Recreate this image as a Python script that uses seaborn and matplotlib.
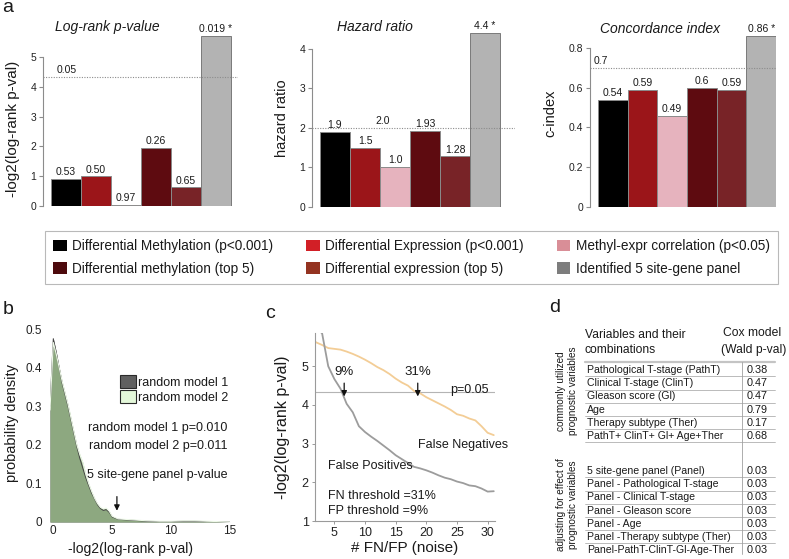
import numpy as np
import pandas as pd
import matplotlib
matplotlib.use("Agg")
import matplotlib.pyplot as plt
import seaborn as sns
from matplotlib.patches import Patch

sns.set_theme(style="white")
plt.rcParams["font.family"] = ["Liberation Sans", "DejaVu Sans"]
plt.rcParams["text.color"] = "#1a1a1a"
plt.rcParams["axes.labelcolor"] = "#1a1a1a"

# ---------------- data ----------------
bar_groups = ["Differential Methylation (p<0.001)", "Differential Expression (p<0.001)",
              "Methyl-expr correlation (p<0.05)", "Differential methylation (top 5)",
              "Differential expression (top 5)", "Identified 5 site-gene panel"]
bar_colors = ["#000000", "#9b1519", "#e6b3be", "#5e0b10", "#782327", "#b3b3b3"]
legend_colors = ["#000000", "#d21f26", "#d98e97", "#4d0a0d", "#943321", "#7d7d7d"]

logrank_p = [0.53, 0.50, 0.97, 0.26, 0.65, 0.019]
logrank_labels = ["0.53", "0.50", "0.97", "0.26", "0.65", "0.019 *"]
hazard_ratio = [1.9, 1.5, 1.02, 1.93, 1.28, 4.4]
hazard_labels = ["1.9", "1.5", "1.0", "1.93", "1.28", "4.4 *"]
c_index = [0.54, 0.59, 0.46, 0.60, 0.59, 0.86]
c_index_labels = ["0.54", "0.59", "0.49", "0.6", "0.59", "0.86 *"]
ref_pvalue = 0.05
ref_hazard = 2.0
ref_cindex = 0.7

density_x = [-0.28, 0, 0.25, 0.5, 0.75, 1.0, 1.25, 1.5, 1.75, 2.0, 2.25, 2.5, 2.75, 3.0,
             3.25, 3.5, 3.75, 4.0, 4.25, 4.5, 4.75, 5.0, 5.5, 6.0, 6.5, 7.0, 8.0, 9.0,
             10.0, 11.0, 12.0, 13.0, 14.0, 15.0]
density_model1 = [0.30, 0.475, 0.44, 0.40, 0.36, 0.33, 0.30, 0.265, 0.23, 0.195, 0.165, 0.14,
                  0.115, 0.095, 0.075, 0.06, 0.045, 0.035, 0.03, 0.032, 0.025, 0.013, 0.007,
                  0.006, 0.005, 0.004, 0.002, 0.001, 0.001, 0.002, 0.002, 0.001, 0.001, 0.0]
density_model2 = [0.29, 0.465, 0.435, 0.40, 0.365, 0.335, 0.305, 0.27, 0.235, 0.20, 0.175, 0.155,
                  0.125, 0.10, 0.08, 0.062, 0.048, 0.038, 0.034, 0.036, 0.028, 0.015, 0.008,
                  0.007, 0.006, 0.005, 0.003, 0.002, 0.002, 0.003, 0.003, 0.002, 0.001, 0.0]
random_models = ["random model 1", "random model 2"]
random_model_p = ["0.010", "0.011"]
panel_score = 5.4

noise = list(range(1, 32))
false_positives = [6.3, 6.0, 5.85, 5.0, 4.67, 4.42, 4.03, 3.81, 3.45, 3.3, 3.18, 3.07, 2.95, 2.83,
                   2.7, 2.6, 2.5, 2.4, 2.36, 2.31, 2.25, 2.18, 2.12, 2.08, 2.02, 1.98, 1.92, 1.9,
                   1.84, 1.76, 1.77]
false_negatives = [5.75, 5.62, 5.55, 5.47, 5.45, 5.43, 5.38, 5.32, 5.25, 5.17, 5.08, 4.98, 4.9,
                   4.8, 4.68, 4.58, 4.5, 4.36, 4.3, 4.2, 4.12, 4.04, 3.96, 3.87, 3.76, 3.72, 3.65,
                   3.6, 3.45, 3.28, 3.22]
fp_cross, fn_cross = 6.6, 18.6
fp_pct, fn_pct = "9%", "31%"

cox_group1 = ["Pathological T-stage (PathT)", "Clinical T-stage (ClinT)", "Gleason score (Gl)",
              "Age", "Therapy subtype (Ther)", "PathT+ ClinT+ Gl+ Age+Ther"]
cox_group1_p = ["0.38", "0.47", "0.47", "0.79", "0.17", "0.68"]
cox_group2 = ["5 site-gene panel (Panel)", "Panel - Pathological T-stage", "Panel - Clinical T-stage",
              "Panel - Gleason score", "Panel - Age", "Panel -Therapy subtype (Ther)",
              "Panel-PathT-ClinT-Gl-Age-Ther"]
cox_group2_p = ["0.03", "0.03", "0.03", "0.03", "0.03", "0.03", "0.03"]

# ---------------- figure ----------------
W, H = 789, 559
fig = plt.figure(figsize=(W / 100, H / 100), dpi=100)


def px_rect(x0, y0, x1, y1):
    return [x0 / W, 1 - y1 / H, (x1 - x0) / W, (y1 - y0) / H]


def place_ylabel(ax, box, text, cx, cy, size):
    x0, y0, x1, y1 = box
    ax.set_ylabel(text, fontsize=size, va="center", ha="center")
    ax.yaxis.set_label_coords((cx - x0) / (x1 - x0), (y1 - cy) / (y1 - y0))


def place_xlabel(ax, box, text, cx, cy, size):
    x0, y0, x1, y1 = box
    ax.set_xlabel(text, fontsize=size, va="center", ha="center")
    ax.xaxis.set_label_coords((cx - x0) / (x1 - x0), (y1 - cy) / (y1 - y0))


def bar_panel(box, xlim, ylim, values, labels, yticks, yticklabels, ref, ref_text, ref_x,
              ref_ha, ylabel, ylab_xy, ylab_size):
    ax = fig.add_axes(px_rect(*box))
    df = pd.DataFrame({"group": bar_groups, "value": values})
    sns.barplot(data=df, x="group", y="value", hue="group", order=bar_groups,
                hue_order=bar_groups, palette=bar_colors, width=1.0, saturation=1,
                edgecolor="#8a8a8a", linewidth=0.7, legend=False, errorbar=None, ax=ax)
    ax.patches[len(bar_groups) - 1].set_edgecolor("#7a7a7a")
    for i, (v, lab) in enumerate(zip(values, labels)):
        ax.annotate(lab, (i, v), xytext=(0, 1.2), textcoords="offset points",
                    ha="center", va="bottom", fontsize=7.5, annotation_clip=False)
    ax.axhline(ref, color="#8c8c8c", lw=0.8, ls=(0, (1, 1.3)), zorder=5)
    ax.annotate(ref_text, (ref_x, ref), xytext=(0, 1.5), textcoords="offset points",
                ha=ref_ha, va="bottom", fontsize=7.5)
    ax.set_xlim(*xlim)
    ax.set_ylim(*ylim)
    ax.set_xticks([])
    ax.set_xlabel("")
    ax.set_yticks(yticks)
    ax.set_yticklabels(yticklabels)
    sns.despine(ax=ax, bottom=True)
    ax.spines["left"].set_color("#8c8c8c")
    ax.spines["left"].set_linewidth(0.8)
    ax.spines["left"].set_bounds(yticks[0], yticks[-1])
    ax.tick_params(axis="y", left=True, length=3, width=0.8, color="#8c8c8c",
                   labelsize=7.5, pad=2, labelcolor="#222222")
    place_ylabel(ax, box, ylabel, ylab_xy[0], ylab_xy[1], ylab_size)
    return ax


neglog = [-np.log2(p) for p in logrank_p]
bar_panel((43, 33.2, 238, 206), (-0.767, 5.733), (0, 5.8), neglog, logrank_labels,
          [0, 1, 2, 3, 4, 5], ["0", "1", "2", "3", "4", "5"], -np.log2(ref_pvalue), "0.05",
          -0.32, "left", "-log2(log-rank p-val)", (13, 129), 11)
bar_panel((312, 33, 515, 207), (-0.767, 6.0), (0, 4.4), hazard_ratio, hazard_labels,
          [0, 1, 2, 3, 4], ["0", "1", "2", "3", "4"], ref_hazard, "2.0", 1.58, "center",
          "hazard ratio", (282, 118), 10.5)
bar_panel((590, 35, 776, 207), (-0.767, 5.5), (0, 0.865), c_index, c_index_labels,
          [0, 0.2, 0.4, 0.6, 0.8], ["0", "0.2", "0.4", "0.6", "0.8"], ref_cindex, "0.7",
          -0.63, "left", "c-index", (550, 113), 10.5)

# legend of panel a
order = [0, 3, 1, 4, 2, 5]
handles = [Patch(facecolor=legend_colors[i], edgecolor="none") for i in order]
labels = [bar_groups[i] for i in order]
leg = fig.legend(handles, labels, ncol=3, loc="center",
                 bbox_to_anchor=(45 / W, 1 - 285 / H, 733 / W, 55 / H), mode="expand",
                 fontsize=9.8, frameon=True, fancybox=False, edgecolor="#a8a8a8",
                 handlelength=1.0, handleheight=0.9, handletextpad=0.4, borderpad=0.6,
                 labelspacing=0.6, borderaxespad=0, columnspacing=1.0)
leg.get_frame().set_linewidth(0.8)

# ---------------- panel b ----------------
box_b = (50, 329, 230, 522)
ax_b = fig.add_axes(px_rect(*box_b))
ax_b.fill_between(density_x, density_model1, 0, color="#5a5a5a", lw=0)
ax_b.fill_between(density_x, density_model2, 0, color="#8fab82", alpha=0.97, lw=0)
sns.lineplot(x=density_x, y=density_model1, color="#444444", lw=0.7, ax=ax_b)
sns.lineplot(x=density_x, y=density_model2, color="#eef9e8", lw=0.8, ax=ax_b)
ax_b.set_xlim(-0.28, 15.0)
ax_b.set_ylim(0, 0.5)
ax_b.set_xticks([0, 5, 10, 15])
ax_b.set_yticks([0, 0.1, 0.2, 0.3, 0.4, 0.5])
ax_b.set_yticklabels(["0", "0.1", "0.2", "0.3", "0.4", "0.5"])
sns.despine(ax=ax_b, left=True, bottom=True)
ax_b.tick_params(length=0, labelsize=8.5, labelcolor="#222222")
ax_b.tick_params(axis="y", pad=6)
ax_b.tick_params(axis="x", pad=2)
place_ylabel(ax_b, box_b, "probability density", 12, 423, 10.5)
place_xlabel(ax_b, box_b, "-log2(log-rank p-val)", 130, 549, 10)
bh = [Patch(facecolor="#606060", edgecolor="#2a2a2a", lw=0.8),
      Patch(facecolor="#e4f8da", edgecolor="#2a2a2a", lw=0.8)]
ax_b.legend(bh, random_models, loc="upper left", bbox_to_anchor=(120 / W, 1 - 375 / H),
            bbox_transform=fig.transFigure, frameon=False, fontsize=9, handlelength=1.25,
            handleheight=1.25, handletextpad=0.2, labelspacing=0.08, borderpad=0,
            borderaxespad=0)
for k, (m, p) in enumerate(zip(random_models, random_model_p)):
    ax_b.text(14.8, 0.244 - 0.047 * k, f"{m} p={p}", ha="right", va="center", fontsize=9)
ax_b.text(14.8, 0.122, "5 site-gene panel p-value", ha="right", va="center", fontsize=9)
ax_b.annotate("", xy=(panel_score, 0.022), xytext=(panel_score, 0.073),
              arrowprops=dict(arrowstyle="-|>", color="#111111", lw=0.9, mutation_scale=8))

# ---------------- panel c ----------------
box_c = (315, 333, 495, 521)
ax_c = fig.add_axes(px_rect(*box_c))
sns.lineplot(x=noise, y=false_negatives, color="#f3cd96", lw=1.3, ax=ax_c)
sns.lineplot(x=noise, y=false_positives, color="#9c9c9c", lw=1.3, ax=ax_c)
ax_c.axhline(-np.log2(ref_pvalue), color="#b4b4b4", lw=0.8, zorder=0)
ax_c.set_xlim(1.84, 31.2)
ax_c.set_ylim(1, 5.86)
ax_c.set_xticks([5, 10, 15, 20, 25, 30])
ax_c.set_yticks([1, 2, 3, 4, 5])
sns.despine(ax=ax_c)
for s in ("left", "bottom"):
    ax_c.spines[s].set_color("#9a9a9a")
    ax_c.spines[s].set_linewidth(0.8)
ax_c.tick_params(left=True, bottom=True, length=2.5, width=0.7, color="#9a9a9a",
                 labelsize=9, pad=2, labelcolor="#222222")
place_ylabel(ax_c, box_c, "-log2(log-rank p-val)", 283, 427, 11.5)
place_xlabel(ax_c, box_c, "# FN/FP (noise)", 405, 548, 11)
for xc, pct in ((fp_cross, fp_pct), (fn_cross, fn_pct)):
    ax_c.annotate(pct, xy=(xc, 4.22), xytext=(xc, 4.84), ha="center", va="center",
                  fontsize=9.5,
                  arrowprops=dict(arrowstyle="-|>", color="#111111", lw=0.9,
                                  mutation_scale=8, shrinkA=1, shrinkB=0))
ax_c.text(23.9, 4.39, f"p={ref_pvalue}", ha="left", va="center", fontsize=9)
ax_c.text(18.7, 2.97, "False Negatives", ha="left", va="center", fontsize=9)
ax_c.text(4.0, 2.41, "False Positives", ha="left", va="center", fontsize=9)
ax_c.text(4.0, 1.65, f"FN threshold ={fn_pct}", ha="left", va="center", fontsize=9)
ax_c.text(4.0, 1.26, f"FP threshold ={fp_pct}", ha="left", va="center", fontsize=9)

# ---------------- overlay (titles, letters, table d) ----------------
ov = fig.add_axes([0, 0, 1, 1])
ov.set_xlim(0, W)
ov.set_ylim(H, 0)
ov.axis("off")
ov.patch.set_alpha(0)

ov.text(107, 27, "Log-rank p-value", ha="center", va="center", fontsize=10, style="italic")
ov.text(375, 27, "Hazard ratio", ha="center", va="center", fontsize=10, style="italic")
ov.text(660, 29, "Concordance index", ha="center", va="center", fontsize=10, style="italic")
for letter, (lx, ly) in zip("abcd", [(8, 7), (8, 309), (270, 313), (555, 308)]):
    ov.text(lx, ly, letter, ha="center", va="center", fontsize=14)

# table d
ov.text(585, 335, "Variables and their", ha="left", va="center", fontsize=8.7)
ov.text(585, 350, "combinations", ha="left", va="center", fontsize=8.7)
ov.text(723, 333, "Cox model", ha="left", va="center", fontsize=8.7)
ov.text(721, 350, "(Wald p-val)", ha="left", va="center", fontsize=8.7)
ov.plot([585, 775], [362, 362], color="#c4c4c4", lw=1.6)
ov.plot([742, 742], [362, 554], color="#a0a0a0", lw=0.6)
step = 13.2
for names, vals, y0, last_line in ((cox_group1, cox_group1_p, 370, True),
                                   (cox_group2, cox_group2_p, 471, False)):
    for k, (nm, pv) in enumerate(zip(names, vals)):
        y = y0 + step * k
        ov.text(587, y, nm, ha="left", va="center", fontsize=7.6)
        ov.text(747, y, pv, ha="left", va="center", fontsize=7.8)
        if k < len(names) - 1 or last_line:
            ov.plot([585, 775], [y + 6.4, y + 6.4], color="#a0a0a0", lw=0.5)
ov.text(567, 391, "commonly utilized\nprognostic variables", rotation=90, ha="center",
        va="center", fontsize=7.2, linespacing=1.15)
ov.text(567, 505, "adjusting for effect of\nprognostic variables", rotation=90, ha="center",
        va="center", fontsize=7.2, linespacing=1.15)

fig.savefig("out.png", dpi=100)
